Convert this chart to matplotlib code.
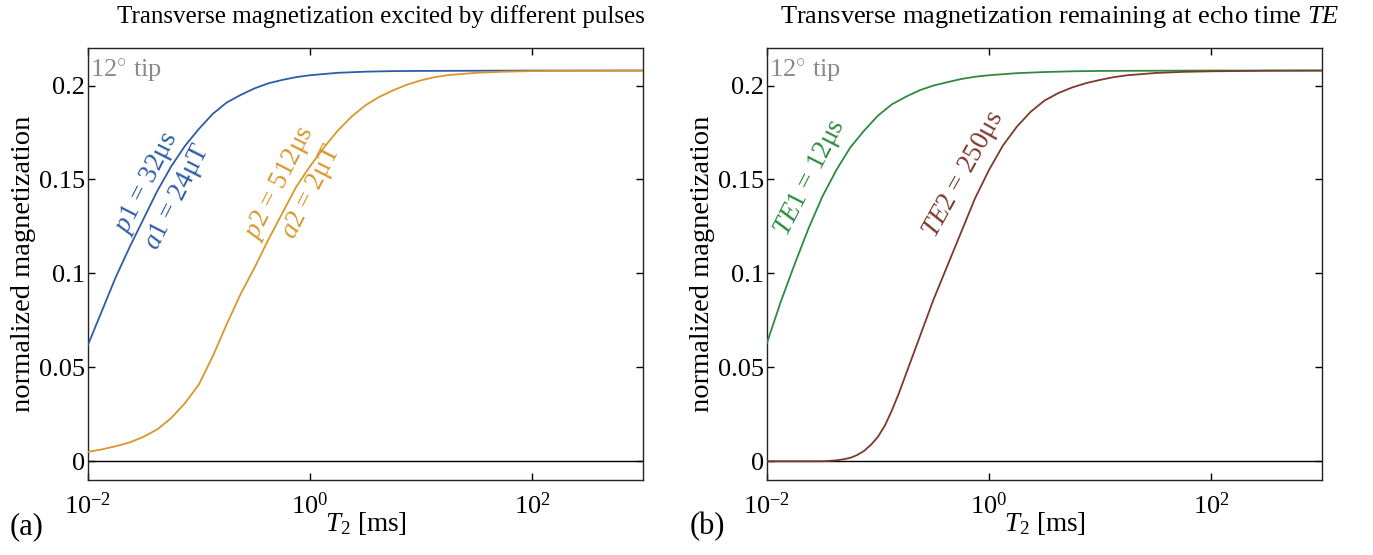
import numpy as np
import matplotlib
matplotlib.use("Agg")
import matplotlib.pyplot as plt
from matplotlib import rcParams

# values (x given as log10 of T2 in ms)
blue_logt = [-2.0, -1.875, -1.75, -1.625, -1.5, -1.375, -1.25, -1.125, -1.0, -0.875,
             -0.75, -0.625, -0.5, -0.375, -0.25, -0.125, 0.0, 0.25, 0.5, 0.75,
             1.0, 1.5, 2.0, 3.0]
blue_m = [0.062, 0.080, 0.098, 0.114, 0.129, 0.144, 0.157, 0.168, 0.177, 0.185,
          0.191, 0.195, 0.1985, 0.2012, 0.203, 0.2045, 0.2055, 0.2068, 0.2074, 0.2077,
          0.2078, 0.2079, 0.208, 0.208]

orange_logt = [-2.0, -1.875, -1.75, -1.625, -1.5, -1.375, -1.25, -1.125, -1.0, -0.875,
               -0.75, -0.625, -0.5, -0.375, -0.25, -0.125, 0.0, 0.125, 0.25, 0.375,
               0.5, 0.625, 0.75, 0.875, 1.0, 1.125, 1.25, 1.5, 1.75, 2.0, 2.5, 3.0]
orange_m = [0.005, 0.0063, 0.008, 0.010, 0.013, 0.017, 0.023, 0.031, 0.041, 0.056,
            0.073, 0.089, 0.103, 0.118, 0.132, 0.146, 0.157, 0.167, 0.176, 0.1835,
            0.1895, 0.194, 0.1975, 0.2005, 0.2028, 0.2045, 0.2056, 0.2068, 0.2074,
            0.2077, 0.2079, 0.208]

green_logt = [-2.0, -1.875, -1.75, -1.625, -1.5, -1.375, -1.25, -1.125, -1.0, -0.875,
              -0.75, -0.625, -0.5, -0.375, -0.25, -0.125, 0.0, 0.25, 0.5, 0.75,
              1.0, 2.0, 3.0]
green_m = [0.063, 0.085, 0.105, 0.124, 0.141, 0.155, 0.167, 0.176, 0.184, 0.190,
           0.194, 0.1975, 0.200, 0.2018, 0.2035, 0.2047, 0.2055, 0.2066, 0.2072, 0.2076,
           0.2078, 0.208, 0.208]

brown_logt = [-2.0, -1.5, -1.4375, -1.375, -1.3125, -1.25, -1.1875, -1.125, -1.0625,
              -1.0, -0.9375, -0.875, -0.8125, -0.75, -0.625, -0.5, -0.375, -0.25,
              -0.125, 0.0, 0.125, 0.25, 0.375, 0.5, 0.625, 0.75, 0.875, 1.0, 1.125,
              1.25, 1.5, 1.75, 2.0, 2.5, 3.0]
brown_m = [0.0, 0.0, 0.0002, 0.0005, 0.001, 0.0018, 0.0033, 0.0055, 0.0088,
           0.013, 0.019, 0.027, 0.036, 0.046, 0.066, 0.086, 0.104, 0.122,
           0.140, 0.155, 0.168, 0.178, 0.186, 0.192, 0.196, 0.199, 0.2013, 0.203,
           0.2045, 0.2055, 0.2067, 0.2073, 0.2076, 0.2079, 0.208]

yticks = [0, 0.05, 0.1, 0.15, 0.2]
ytick_labels = ["0", "0.05", "0.1", "0.15", "0.2"]
xticks = [1e-2, 1e0, 1e2]
xtick_labels = [r"$10^{-2}$", r"$10^{0}$", r"$10^{2}$"]

BLUE = "#2d5da6"
ORANGE = "#d8972c"
GREEN = "#2f8a3f"
BROWN = "#7a3b2c"
GRAY = "#8a8a8a"

rcParams['font.family'] = ['Liberation Serif', 'DejaVu Serif']
rcParams['mathtext.fontset'] = 'custom'
rcParams['mathtext.rm'] = 'Liberation Serif'
rcParams['mathtext.it'] = 'Liberation Serif:italic'
rcParams['mathtext.bf'] = 'Liberation Serif:bold'


def setup_axes(ax, title, title_size):
    ax.set_xscale('log')
    ax.set_xlim(1e-2, 1e3)
    ax.set_ylim(-0.01, 0.22)
    ax.axhline(0, color='black', lw=1.0, zorder=1)
    ax.set_xticks(xticks)
    ax.set_xticklabels(xtick_labels)
    ax.xaxis.set_minor_locator(matplotlib.ticker.NullLocator())
    ax.set_yticks(yticks)
    ax.set_yticklabels(ytick_labels)
    ax.tick_params(direction='in', top=True, right=True, length=5, width=1,
                   labelsize=19)
    ax.tick_params(axis='y', pad=2)
    ax.tick_params(axis='x', pad=9)
    for s in ax.spines.values():
        s.set_linewidth(1.0)
        s.set_color('#222222')
    ax.set_ylabel("normalized magnetization", fontsize=20.5)
    ax.yaxis.set_label_coords(-0.094, 0.5)
    ax.set_xlabel(r"$T_2$ [ms]", fontsize=19.5)
    ax.xaxis.label.set_va('center')
    ax.xaxis.set_label_coords(0.5, -0.10)
    ax.set_title(title, fontsize=title_size, pad=18, x=0.527)
    ax.text(0.003, 0.978, r"12$^{\circ}$ tip", transform=ax.transAxes,
            color=GRAY, fontsize=19, ha='left', va='top')


fig = plt.figure(figsize=(13.73, 5.55), dpi=100)
ax1 = fig.add_axes([0.0641, 0.1351, 0.4042, 0.7784])
ax2 = fig.add_axes([0.5586, 0.1351, 0.4042, 0.7784])


def px_to_data(ax, px, py):
    # reference pixel position -> data coordinates
    fx = (px - 88 - (ax is ax2) * 679) / 555.0
    fy = (480 - py) / 432.0
    return 10 ** (-2 + 5 * fx), -0.01 + 0.23 * fy


lab = dict(rotation=63, ha='center', va='center', fontsize=19.5, rotation_mode='anchor')

# (a) excitation
setup_axes(ax1, "Transverse magnetization excited by different pulses", 18)
ax1.plot(10 ** np.array(blue_logt), blue_m, color=BLUE, lw=1.3, zorder=3)
ax1.plot(10 ** np.array(orange_logt), orange_m, color=ORANGE, lw=1.3, zorder=3)
x, y = px_to_data(ax1, 147, 183)
ax1.text(x, y, r"$p1$ = 32μs", color=BLUE, **lab)
x, y = px_to_data(ax1, 178, 197)
ax1.text(x, y, r"$a1$ = 24μT", color=BLUE, **lab)
x, y = px_to_data(ax1, 280, 183)
ax1.text(x, y, r"$p2$ = 512μs", color=ORANGE, **lab)
x, y = px_to_data(ax1, 312, 192)
ax1.text(x, y, r"$a2$ = 2μT", color=ORANGE, **lab)

# (b) echo
setup_axes(ax2, r"Transverse magnetization remaining at echo time $TE$", 19)
ax2.plot(10 ** np.array(green_logt), green_m, color=GREEN, lw=1.3, zorder=3)
ax2.plot(10 ** np.array(brown_logt), brown_m, color=BROWN, lw=1.3, zorder=3)
x, y = px_to_data(ax2, 810, 178)
ax2.text(x, y, r"$TE1$ = 12μs", color=GREEN, **lab)
x, y = px_to_data(ax2, 964, 175)
ax2.text(x, y, r"$TE2$ = 250μs", color=BROWN, rotation=61, ha='center', va='center',
         fontsize=19.5, rotation_mode='anchor')

fig.text(27 / 1373, 1 - 527 / 555, "(a)", fontsize=22, ha='center', va='center')
fig.text(707 / 1373, 1 - 527 / 555, "(b)", fontsize=22, ha='center', va='center')

fig.savefig("out.png", dpi=100)
